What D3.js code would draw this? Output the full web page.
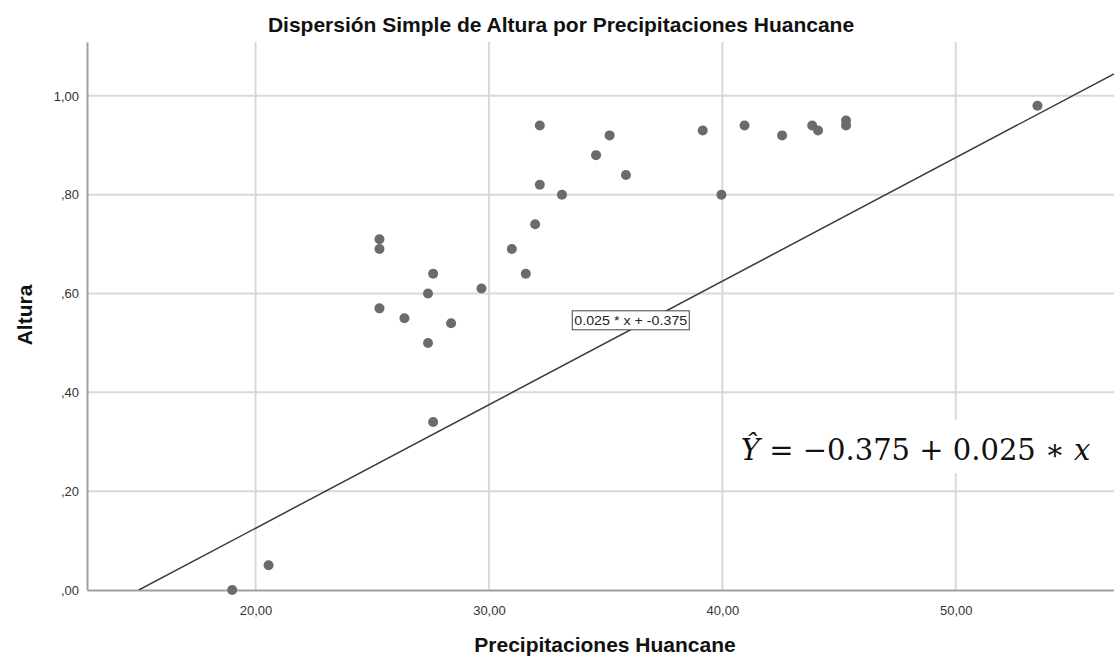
<!DOCTYPE html>
<html>
<head>
<meta charset="utf-8">
<script src="https://cdn.jsdelivr.net/npm/d3@7"></script>
<style>
  body { margin: 0; background: #fff; }
  text { font-family: "Liberation Sans", Arial, sans-serif; }
</style>
</head>
<body>
<div id="chart"></div>
<script>
// precipitation (x) and altura (y)
const precipitaciones = [19.0, 20.56, 25.31, 25.31, 25.31, 26.38, 27.39, 27.61, 27.39, 27.61,
    28.38, 29.68, 30.98, 31.58, 31.98, 32.18, 32.18, 33.13, 34.59, 35.17,
    35.87, 39.16, 39.96, 40.95, 42.56, 43.85, 44.1, 45.3, 45.3, 53.5];
const altura = [0.00, 0.05, 0.71, 0.69, 0.57, 0.55, 0.60, 0.64, 0.50, 0.34,
    0.54, 0.61, 0.69, 0.64, 0.74, 0.82, 0.94, 0.80, 0.88, 0.92,
    0.84, 0.93, 0.80, 0.94, 0.92, 0.94, 0.93, 0.95, 0.94, 0.98];

const xTicks = [20, 30, 40, 50];
const xTickLabels = ['20,00', '30,00', '40,00', '50,00'];
const yTicks = [0, 0.2, 0.4, 0.6, 0.8, 1.0];
const yTickLabels = [',00', ',20', ',40', ',60', ',80', '1,00'];

// fit line: y = -0.375 + 0.025 * x
const intercept = -0.375;
const slope = 0.025;

const width = 1114;
const height = 657;
const marginLeft = 87;
const marginTop = 42;
const plotBottom = 590;

const svg = d3.select('#chart')
    .append('svg')
        .attr('width', width)
        .attr('height', height);

const x = d3.scaleLinear()
    .domain([12.78, 56.78])
    .range([marginLeft, width]);

const y = d3.scaleLinear()
    .domain([0, 1.109])
    .range([plotBottom, marginTop]);

// grid lines
svg.append('g')
    .selectAll('line')
    .data(xTicks)
    .join('line')
        .attr('x1', d => x(d))
        .attr('x2', d => x(d))
        .attr('y1', marginTop)
        .attr('y2', plotBottom)
        .attr('stroke', '#d9d9d9')
        .attr('stroke-width', 2);

svg.append('g')
    .selectAll('line')
    .data(yTicks.filter(d => d > 0))
    .join('line')
        .attr('x1', marginLeft)
        .attr('x2', width)
        .attr('y1', d => y(d))
        .attr('y2', d => y(d))
        .attr('stroke', '#d9d9d9')
        .attr('stroke-width', 2);

// axes
const xAxis = d3.axisBottom(x)
    .tickValues(xTicks)
    .tickFormat((d, i) => xTickLabels[i])
    .tickSize(0)
    .tickPadding(16);

const yAxis = d3.axisLeft(y)
    .tickValues(yTicks)
    .tickFormat((d, i) => yTickLabels[i])
    .tickSize(0)
    .tickPadding(8);

const gx = svg.append('g')
    .attr('transform', `translate(0,${plotBottom})`)
    .call(xAxis);
const gy = svg.append('g')
    .attr('transform', `translate(${marginLeft},0)`)
    .call(yAxis);

[gx, gy].forEach(g => {
    g.select('.domain').attr('stroke', '#a0a0a0').attr('stroke-width', 2);
    g.selectAll('text')
        .attr('fill', '#333')
        .style('font-family', '"Liberation Sans", Arial, sans-serif')
        .style('font-size', '13px');
});

// points
svg.append('g')
    .selectAll('circle')
    .data(precipitaciones)
    .join('circle')
        .attr('cx', d => x(d))
        .attr('cy', (d, i) => y(altura[i]))
        .attr('r', 5)
        .attr('fill', '#6b6b6b');

// fit line, clipped to the plot
svg.append('clipPath')
    .attr('id', 'plot-clip')
    .append('rect')
        .attr('x', marginLeft)
        .attr('y', marginTop)
        .attr('width', width - marginLeft)
        .attr('height', plotBottom - marginTop);

const xStart = -intercept / slope;
const xEnd = x.domain()[1];
svg.append('line')
    .attr('clip-path', 'url(#plot-clip)')
    .attr('x1', x(xStart))
    .attr('y1', y(intercept + slope * xStart))
    .attr('x2', x(xEnd))
    .attr('y2', y(intercept + slope * xEnd))
    .attr('stroke', '#3a3a3a')
    .attr('stroke-width', 1.5);

// label of the fit line
const labelX = 33.57;
const labelY = 0.565;
const lineLabel = svg.append('g');
lineLabel.append('rect')
    .attr('x', x(labelX))
    .attr('y', y(labelY))
    .attr('width', 117)
    .attr('height', 19)
    .attr('fill', '#fff')
    .attr('stroke', '#444')
    .attr('stroke-width', 1);
lineLabel.append('text')
    .attr('x', x(labelX) + 2)
    .attr('y', y(labelY) + 14)
    .attr('textLength', 113)
    .attr('lengthAdjust', 'spacingAndGlyphs')
    .style('font-size', '13px')
    .attr('fill', '#222')
    .text(`${slope} * x + ${intercept}`);

// equation
const eqX = 40.15;
const eqY = 0.345;
svg.append('rect')
    .attr('x', x(eqX))
    .attr('y', y(eqY))
    .attr('width', 375)
    .attr('height', 54)
    .attr('fill', '#fff');

const eq = svg.append('text')
    .attr('x', x(eqX) + 15)
    .attr('y', y(eqY) + 40)
    .attr('fill', '#111')
    .style('font-family', '"DejaVu Serif", "Liberation Serif", serif')
    .style('font-size', '29px');
eq.append('tspan').style('font-style', 'italic').text('Ŷ');
eq.append('tspan').text(` = −${Math.abs(intercept)} + ${slope} ∗ `);
eq.append('tspan').style('font-style', 'italic').text('x');

// titles
svg.append('text')
    .attr('x', 561)
    .attr('y', 32)
    .attr('text-anchor', 'middle')
    .style('font-weight', 'bold')
    .style('font-size', '21px')
    .attr('fill', '#111')
    .text('Dispersión Simple de Altura por Precipitaciones Huancane');

svg.append('text')
    .attr('x', 605)
    .attr('y', 652)
    .attr('text-anchor', 'middle')
    .style('font-weight', 'bold')
    .style('font-size', '21px')
    .attr('fill', '#111')
    .text('Precipitaciones Huancane');

svg.append('text')
    .attr('transform', 'translate(32,315) rotate(-90)')
    .attr('text-anchor', 'middle')
    .style('font-weight', 'bold')
    .style('font-size', '21px')
    .attr('fill', '#111')
    .text('Altura');
</script>
</body>
</html>
